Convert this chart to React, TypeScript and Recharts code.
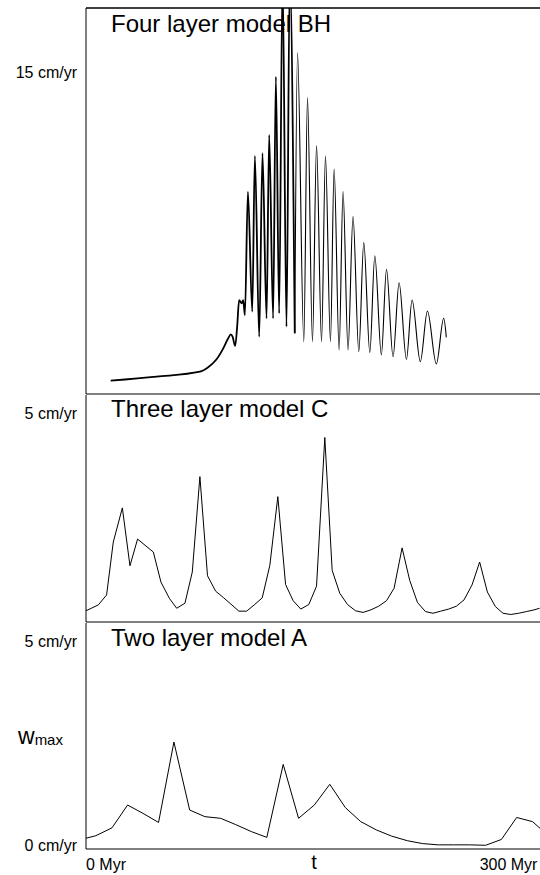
import React from 'react';
import { LineChart, Line, XAxis, YAxis, ReferenceLine, Customized } from 'recharts';

// time axis in Myr, w_max in cm/yr
const X_MAX = 346;
const xTicks = [0, 300];

// Four layer model BH (thick early part, thin late oscillations)
const bhEarlyT = [18.8, 53.8, 86.8, 93.1, 99.5, 104.6, 108.4, 110.4, 111.7, 113.7, 115.2, 116.7, 118.6, 119.8, 121.1, 123.4, 126.7, 128.7, 132.0, 134.5, 137.6, 139.6, 142.6, 144.7, 147.2, 149.8, 152.8, 155.3, 159.1];
const bhEarlyW = [0.62, 0.81, 1.04, 1.25, 1.62, 2.13, 2.6, 2.78, 2.67, 2.24, 3.14, 4.38, 4.23, 4.38, 3.68, 9.44, 3.84, 11.1, 2.67, 11.23, 3.53, 12.08, 3.53, 14.8, 3.76, 19.5, 3.14, 19.5, 2.83];
const bhLateT = [159.1, 161.2, 166.0, 168.8, 172.6, 175.7, 179.5, 182.5, 186.3, 189.1, 192.9, 195.9, 199.7, 203.5, 207.9, 211.7, 216.3, 220.1, 225.1, 229.0, 234.0, 238.6, 244.2, 248.5, 254.8, 260.2, 267.0, 272.6, 274.6];
const bhLateW = [2.83, 15.92, 2.44, 13.82, 2.44, 11.58, 2.44, 11.1, 2.44, 10.49, 2.05, 9.44, 2.05, 8.27, 1.97, 7.06, 1.93, 6.45, 1.82, 5.82, 1.74, 5.19, 1.62, 4.38, 1.51, 3.87, 1.4, 3.53, 2.64];

// Three layer model C
const cT = [0, 9.4, 15.7, 20.8, 27.7, 33.5, 39.3, 51.3, 57.1, 63.5, 69.1, 75.4, 81.0, 86.8, 92.6, 98.8, 104.6, 110.4, 116.5, 122.4, 128.2, 134.3, 140.1, 146.2, 152.1, 157.9, 163.7, 169.8, 175.7, 182.0, 187.6, 193.4, 199.3, 205.4, 211.2, 217.0, 223.1, 229.0, 234.8, 240.9, 246.7, 252.6, 258.7, 264.5, 270.3, 276.4, 282.3, 288.1, 294.2, 300.0, 305.9, 312.0, 317.8, 323.7, 329.7, 335.6, 341.4, 345.7];
const cW = [0.27, 0.41, 0.65, 1.92, 2.74, 1.35, 1.99, 1.68, 0.96, 0.57, 0.33, 0.45, 1.2, 3.49, 1.11, 0.74, 0.59, 0.43, 0.26, 0.26, 0.41, 0.58, 1.36, 3.01, 0.9, 0.51, 0.31, 0.42, 0.86, 4.43, 1.24, 0.69, 0.42, 0.27, 0.23, 0.29, 0.38, 0.51, 0.81, 1.78, 1.0, 0.47, 0.25, 0.21, 0.26, 0.31, 0.38, 0.53, 0.89, 1.44, 0.72, 0.37, 0.21, 0.18, 0.21, 0.25, 0.29, 0.33];

// Two layer model A
const aT = [0, 7.5, 19.8, 31.7, 43.4, 55.3, 67.0, 79.0, 90.6, 102.6, 114.0, 126.0, 137.8, 150.3, 162.0, 174.0, 185.8, 197.6, 209.4, 221.3, 233.0, 244.9, 256.6, 268.5, 280.2, 292.1, 304.6, 316.6, 328.2, 340.3, 346];
const aW = [0.26, 0.32, 0.51, 1.06, 0.86, 0.64, 2.58, 0.94, 0.78, 0.74, 0.59, 0.42, 0.28, 2.04, 0.74, 1.06, 1.56, 1.0, 0.66, 0.46, 0.31, 0.2, 0.13, 0.1, 0.1, 0.1, 0.09, 0.23, 0.76, 0.66, 0.5];

const bhRows = [
  ...bhEarlyT.map((t, i) => ({ t, early: bhEarlyW[i] })),
  ...bhLateT.map((t, i) => ({ t, late: bhLateW[i] })),
];
const cRows = cT.map((t, i) => ({ t, w: cW[i] }));
const aRows = aT.map((t, i) => ({ t, w: aW[i] }));

const FONT = '"Liberation Sans", Arial, Helvetica, sans-serif';

const yTick = (props: any) => {
  const { y, payload } = props;
  const dy = payload.value === 0 ? -4 : 0;
  return (
    <text x={77} y={y + dy} textAnchor="end" dominantBaseline="central" fontSize={16} fontFamily={FONT} fill="#000">
      {payload.value} cm/yr
    </text>
  );
};

const xTick = (props: any) => {
  const { x, payload } = props;
  return (
    <text x={x} y={247} textAnchor="start" fontSize={16} fontFamily={FONT} fill="#000">
      {payload.value} Myr
    </text>
  );
};

const title = (label: string, y: number) => () => (
  <text x={111} y={y} fontSize={24} fontFamily={FONT} fill="#000">
    {label}
  </text>
);

const App: React.FC = () => {
  return (
    <div style={{ position: 'absolute', left: 0, top: 0, width: 540, height: 875, background: '#fff', fontFamily: FONT }}>
      <LineChart width={540} height={395} data={bhRows} margin={{ top: 7, right: 0, bottom: 0, left: 0 }}>
        <XAxis type="number" dataKey="t" domain={[0, X_MAX]} height={1} tick={false} tickLine={false} axisLine={{ stroke: '#000' }} allowDataOverflow />
        <XAxis xAxisId="top" orientation="top" type="number" dataKey="t" domain={[0, X_MAX]} height={1} tick={false} tickLine={false} axisLine={{ stroke: '#000' }} />
        <YAxis type="number" domain={[0, 18]} ticks={[15]} width={86} tickLine={false} axisLine={{ stroke: '#000' }} tick={yTick} allowDataOverflow />
        <ReferenceLine y={18} stroke="#000" ifOverflow="visible" />
        <Customized component={title('Four layer model BH', 31.7)} />
        <Line dataKey="early" type="monotone" stroke="#000" strokeWidth={1.8} dot={false} isAnimationActive={false} />
        <Line dataKey="late" type="monotone" stroke="#000" strokeWidth={1.1} dot={false} isAnimationActive={false} />
      </LineChart>

      <LineChart width={540} height={228} data={cRows} margin={{ top: 0, right: 0, bottom: 0, left: 0 }}>
        <XAxis type="number" dataKey="t" domain={[0, X_MAX]} height={1} tick={false} tickLine={false} axisLine={{ stroke: '#000' }} allowDataOverflow />
        <YAxis type="number" domain={[0, 5.45]} ticks={[5]} width={86} tickLine={false} axisLine={{ stroke: '#000' }} tick={yTick} allowDataOverflow />
        <Customized component={title('Three layer model C', 22.3)} />
        <Line dataKey="w" type="linear" stroke="#000" strokeWidth={1} dot={false} isAnimationActive={false} />
      </LineChart>

      <LineChart width={540} height={252} data={aRows} margin={{ top: 0, right: 0, bottom: 0, left: 0 }}>
        <XAxis type="number" dataKey="t" domain={[0, X_MAX]} ticks={xTicks} height={26} tickLine={false} axisLine={{ stroke: '#000' }} tick={xTick} allowDataOverflow />
        <YAxis type="number" domain={[0, 5.45]} ticks={[0, 5]} width={86} tickLine={false} axisLine={{ stroke: '#000' }} tick={yTick} allowDataOverflow />
        <Customized component={title('Two layer model A', 23)} />
        <Customized
          component={() => (
            <g fontFamily={FONT} fill="#000">
              <text x={18} y={121}>
                <tspan fontSize={23}>w</tspan>
                <tspan fontSize={15} dy={1}>max</tspan>
              </text>
              <text x={314} y={246} textAnchor="middle" fontSize={20}>
                t
              </text>
            </g>
          )}
        />
        <Line dataKey="w" type="linear" stroke="#000" strokeWidth={1} dot={false} isAnimationActive={false} />
      </LineChart>
    </div>
  );
};

export default App;
